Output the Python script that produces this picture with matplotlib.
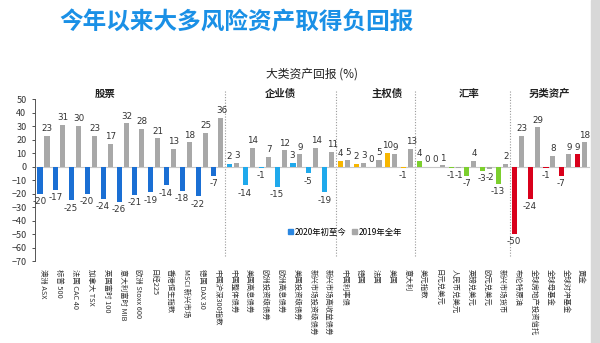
import matplotlib.pyplot as plt
from matplotlib.patches import Patch, Rectangle
import numpy as np

plt.rcParams['font.family'] = ['Noto Sans CJK SC', 'DejaVu Sans']

# 资产类别
groups = ["股票", "企业债", "主权债", "汇率", "另类资产"]
assets = [
    ["澳洲 ASX", "标普 500", "法国 CAC 40", "加拿大 TSX", "英国富时 100", "意大利富时 MIB",
     "欧洲 Stoxx 600", "日经225", "香港恒生指数", "MSCI 新兴市场", "德国 DAX 30", "中国沪深300指数"],
    ["中国整体债券", "美国高息债券", "欧洲投资级债券", "欧洲高息债券", "美国投资级债券",
     "新兴市场投资级债券", "新兴市场高收益债券"],
    ["中国利率债", "德国", "法国", "美国", "意大利"],
    ["美元指数", "日元兑美元", "人民币兑美元", "英镑兑美元", "欧元兑美元", "新兴市场货币"],
    ["布伦特原油", "全球房地产投资信托", "全球母基金", "全球对冲基金", "黄金"],
]
ret_2020 = [
    [-20, -17, -25, -20, -24, -26, -21, -19, -14, -18, -22, -7],
    [2, -14, -1, -15, 3, -5, -19],
    [4, 2, 0, 10, -1],
    [4, 0, -1, -7, -3, -13],
    [-50, -24, -1, -7, 9],
]
ret_2019 = [
    [23, 31, 30, 23, 17, 32, 28, 21, 13, 18, 25, 36],
    [3, 14, 7, 12, 9, 14, 11],
    [5, 3, 5, 9, 13],
    [0, 1, -1, 4, -2, 2],
    [23, 29, 8, 9, 18],
]
group_colors = ["#1a6fd4", "#1fa9ec", "#f7b600", "#7ccf2e", "#d9001b"]
gray = "#a8a8a8"
# 组名所在的横坐标(类别序号)
header_x = [3.9, 15, 21.7, 26.9, 32]

labels = sum(assets, [])
v20 = np.array(sum(ret_2020, []))
v19 = np.array(sum(ret_2019, []))
colors20 = sum([[c] * len(a) for c, a in zip(group_colors, assets)], [])
x = np.arange(len(labels))

fig = plt.figure(figsize=(6, 3.43), dpi=100)
ax = fig.add_axes([0.058, 0.239, 0.925, 0.472])

w = 0.32
ax.bar(x - 0.22, v20, w, color=colors20, zorder=3)
ax.bar(x + 0.22, v19, w, color=gray, zorder=3)
ax.axhline(0, color="#c8c8c8", lw=0.8, zorder=2)

lab_kw = dict(ha="center", fontsize=6.3, color="#333333", family=["DejaVu Sans"])
for xi, a, b in zip(x, v20, v19):
    ax.text(xi - 0.25, a + (-2.5 if a < 0 else 2), f"{a}",
            va="top" if a < 0 else "bottom", **lab_kw)
    ax.text(xi + 0.25, b + (-2.5 if b < 0 else 2), f"{b}",
            va="top" if b < 0 else "bottom", **lab_kw)

# 分组虚线与组名
start = 0
for g, a, hx in zip(groups, assets, header_x):
    if start > 0:
        ax.plot([start - 0.5, start - 0.5], [56, -67], ls=(0, (1, 1.5)),
                color="#9a9a9a", lw=0.8, clip_on=False, zorder=1)
    ax.text(hx, 53.5, g, ha="center", va="center",
            fontsize=7.5, fontweight="bold", color="#222222")
    start += len(a)

ax.set_xlim(-0.55, len(labels) - 0.45)
ax.set_ylim(-70, 50)
ax.set_yticks(np.arange(-70, 51, 10))
ax.tick_params(axis="y", labelsize=6.5, length=2.5, width=0.6, colors="#333333")
ax.set_xticks(x)
ax.set_xticklabels(labels, rotation=270, fontsize=5.3, color="#333333")
ax.tick_params(axis="x", length=0, pad=6)
for s in ["top", "right", "bottom"]:
    ax.spines[s].set_visible(False)
ax.spines["left"].set_color("#555555")
ax.spines["left"].set_linewidth(0.7)

handles = [Patch(color="#2a86e0", label="2020年初至今"),
           Patch(color=gray, label="2019年全年")]
fig.legend(handles=handles, loc="center", bbox_to_anchor=(0.575, 0.323), ncol=2,
           frameon=False, fontsize=6, handlelength=0.6, handleheight=0.6,
           handletextpad=0.2, columnspacing=0.6)

fig.text(0.52, 0.783, "大类资产回报 (%)", ha="center", va="center",
         fontsize=8.5, color="#222222")
fig.text(0.395, 0.935, "今年以来大多风险资产取得负回报", ha="center", va="center",
         fontsize=17, fontweight="bold", color="#1a90e6")

# 右侧页边
fig.patches.append(Rectangle((0.985, 0), 0.015, 1, transform=fig.transFigure,
                             color="#d8d8d8", zorder=0))

fig.savefig("out.png", dpi=100)
